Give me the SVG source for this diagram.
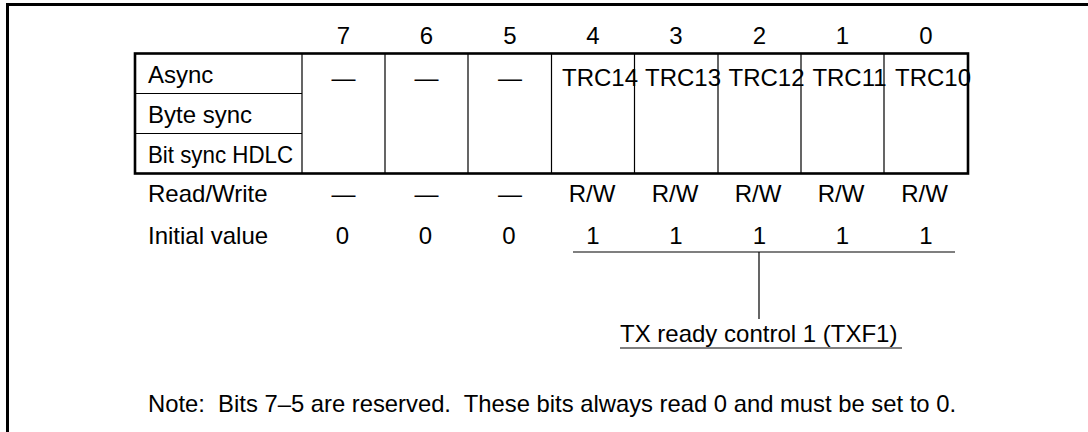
<svg xmlns="http://www.w3.org/2000/svg" width="1088" height="432" viewBox="0 0 1088 432">
<style>
text{font-family:"Liberation Sans",Arial,sans-serif;font-size:24px;fill:#000}
.c{text-anchor:middle}
.thick{stroke:#000;stroke-width:2.6;fill:none}
.thin{stroke:#000;stroke-width:1.2;fill:none}
.frame{stroke:#000;stroke-width:3;fill:none}
</style>
<rect width="1088" height="432" fill="#fff"/>
<g id="frame">
<path class="frame" d="M7.5,432 V4.5 H1088"/>
</g>
<g id="bit-numbers">
<text class="c" x="343.5" y="43.5">7</text>
<text class="c" x="426.5" y="43.5">6</text>
<text class="c" x="510" y="43.5">5</text>
<text class="c" x="593" y="43.5">4</text>
<text class="c" x="676" y="43.5">3</text>
<text class="c" x="759.5" y="43.5">2</text>
<text class="c" x="842.5" y="43.5">1</text>
<text class="c" x="926" y="43.5">0</text>
</g>
<g id="register-table">
<path class="thin" d="M135,93.5 H302 M135,133.5 H302"/>
<path class="thin" d="M302,53.5 V173.5 M385,53.5 V173.5 M468,53.5 V173.5 M551.5,53.5 V173.5 M634.5,53.5 V173.5 M718,53.5 V173.5 M801,53.5 V173.5 M884,53.5 V173.5"/>
<rect class="thick" x="135" y="53.5" width="833" height="120"/>
</g>
<g id="mode-labels">
<text x="148" y="82.5">Async</text>
<text x="148" y="122.5">Byte sync</text>
<text x="148" y="162.5" textLength="145" lengthAdjust="spacingAndGlyphs">Bit sync HDLC</text>
</g>
<g id="bit-cells">
<text class="c" x="343.5" y="85.5">—</text>
<text class="c" x="426.5" y="85.5">—</text>
<text class="c" x="510" y="85.5">—</text>
<text class="c" x="600" y="85.5">TRC14</text>
<text class="c" x="683" y="85.5">TRC13</text>
<text class="c" x="766.5" y="85.5">TRC12</text>
<text class="c" x="849.5" y="85.5">TRC11</text>
<text class="c" x="933" y="85.5">TRC10</text>
</g>
<g id="read-write">
<text x="148" y="201.5">Read/Write</text>
<text class="c" x="343.5" y="201.5">—</text>
<text class="c" x="426.5" y="201.5">—</text>
<text class="c" x="510" y="201.5">—</text>
<text class="c" x="592" y="201.5">R/W</text>
<text class="c" x="675" y="201.5">R/W</text>
<text class="c" x="758" y="201.5">R/W</text>
<text class="c" x="841" y="201.5">R/W</text>
<text class="c" x="924.5" y="201.5">R/W</text>
</g>
<g id="initial-value">
<text x="148" y="243.5">Initial value</text>
<text class="c" x="342.5" y="243.5">0</text>
<text class="c" x="425.5" y="243.5">0</text>
<text class="c" x="509" y="243.5">0</text>
<text class="c" x="593" y="243.5">1</text>
<text class="c" x="676" y="243.5">1</text>
<text class="c" x="759.5" y="243.5">1</text>
<text class="c" x="842.5" y="243.5">1</text>
<text class="c" x="926" y="243.5">1</text>
</g>
<g id="connectors">
<path class="thin" d="M573,252 H955 M759,252 V319"/>
</g>
<g id="field-label">
<text x="620" y="341.5">TX ready control 1 (TXF1)</text>
<path class="thin" d="M620,348 H902"/>
</g>
<g id="note">
<text x="148" y="411.5" xml:space="preserve" textLength="808" lengthAdjust="spacingAndGlyphs">Note:  Bits 7–5 are reserved.  These bits always read 0 and must be set to 0.</text>
</g>
</svg>
